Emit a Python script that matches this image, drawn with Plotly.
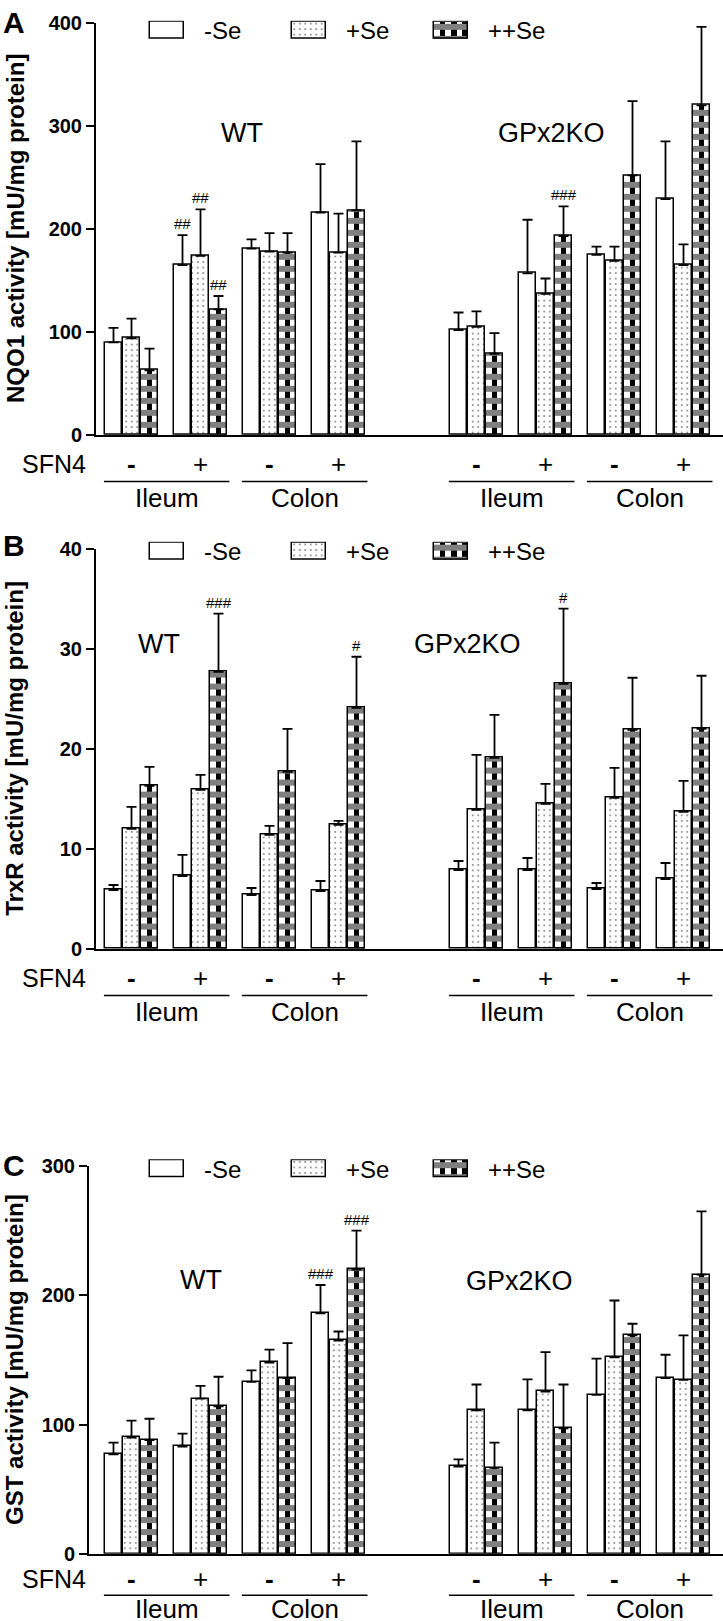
import plotly.graph_objects as go

W, H = 723, 1621
SANS = "Liberation Sans, Arial, Helvetica, sans-serif"

# ---------------- data ----------------
conditions = ["WT Ileum SFN4-", "WT Ileum SFN4+", "WT Colon SFN4-", "WT Colon SFN4+",
              "GPx2KO Ileum SFN4-", "GPx2KO Ileum SFN4+", "GPx2KO Colon SFN4-", "GPx2KO Colon SFN4+"]
sfn4_labels = ["-", "+", "-", "+", "-", "+", "-", "+"]
tissue_labels = ["Ileum", "Colon", "Ileum", "Colon"]
genotype_labels = ["WT", "GPx2KO"]
se_levels = ["-Se", "+Se", "++Se"]

# A: NQO1 activity [mU/mg protein]
nqo1_minus_se = [90, 165, 181, 216, 102, 157, 175, 229]
nqo1_plus_se = [94, 174, 178, 177, 105, 137, 169, 165]
nqo1_plusplus_se = [63, 122, 177, 218, 79, 193, 252, 320]
nqo1_minus_se_err = [14, 29, 9, 47, 17, 52, 8, 56]
nqo1_plus_se_err = [19, 45, 18, 38, 15, 15, 14, 20]
nqo1_plusplus_se_err = [21, 13, 19, 67, 20, 29, 72, 76]
nqo1_marks = [("-Se", 1, "##"), ("+Se", 1, "##"), ("++Se", 1, "##"), ("++Se", 5, "###")]

# B: TrxR activity [mU/mg protein]
trxr_minus_se = [5.9, 7.3, 5.4, 5.8, 7.9, 7.9, 6.0, 7.0]
trxr_plus_se = [12.0, 15.9, 11.4, 12.4, 13.9, 14.5, 15.1, 13.7]
trxr_plusplus_se = [16.3, 27.7, 17.7, 24.1, 19.1, 26.5, 21.9, 22.0]
trxr_minus_se_err = [0.5, 2.1, 0.7, 1.0, 0.9, 1.2, 0.6, 1.6]
trxr_plus_se_err = [2.2, 1.5, 0.9, 0.4, 5.5, 2.0, 3.0, 3.1]
trxr_plusplus_se_err = [1.9, 5.8, 4.3, 5.1, 4.3, 7.5, 5.2, 5.3]
trxr_marks = [("++Se", 1, "###"), ("++Se", 3, "#"), ("++Se", 5, "#")]

# C: GST activity [mU/mg protein]
gst_minus_se = [77, 83, 133, 186, 67.5, 111, 123, 136]
gst_plus_se = [90, 120, 148, 165, 111, 125.5, 152, 134.5]
gst_plusplus_se = [88, 114, 136, 220, 66.5, 97, 169, 216]
gst_minus_se_err = [9, 10, 9, 22, 5.5, 24, 28, 18]
gst_plus_se_err = [13, 10, 10, 7, 20, 30.5, 44, 34.5]
gst_plusplus_se_err = [16.5, 23, 27, 30, 19.5, 34, 9, 49]
gst_marks = [("-Se", 3, "###"), ("++Se", 3, "###")]

# ---------------- layout constants ----------------
SLOT = [0, 1, 2, 3, 5, 6, 7, 8]      # x slot of each condition (slot 4 is the gap)
PITCH = 69.0                          # px per slot
X0 = 131.5                            # px of slot 0 centre
BAR_PX = 17.0
BAR_W = BAR_PX / PITCH
BAR_STEP = 18.0 / PITCH
SE_OFF = {"-Se": -BAR_STEP, "+Se": 0.0, "++Se": BAR_STEP}
N_CHECK = 3                           # checker columns per ++Se bar
CHECK_H = 6.0                         # checker square height (px)

panels = [
    dict(letter="A", title="NQO1 activity [mU/mg protein]", ymax=400, dtick=100,
         vals=[nqo1_minus_se, nqo1_plus_se, nqo1_plusplus_se],
         errs=[nqo1_minus_se_err, nqo1_plus_se_err, nqo1_plusplus_se_err],
         marks=nqo1_marks, top=12, bottom=430, left=96, legend_y=20, letter_y=12,
         wt=(1.6, 293), ko=(6.08, 293), rows=(29, 47, 64)),
    dict(letter="B", title="TrxR activity [mU/mg protein]", ymax=40, dtick=10,
         vals=[trxr_minus_se, trxr_plus_se, trxr_plusplus_se],
         errs=[trxr_minus_se_err, trxr_plus_se_err, trxr_plusplus_se_err],
         marks=trxr_marks, top=545, bottom=951, left=96, legend_y=548, letter_y=542,
         wt=(0.4, 30.5), ko=(4.87, 30.5), rows=(29, 47, 64)),
    dict(letter="C", title="GST activity [mU/mg protein]", ymax=300, dtick=100,
         vals=[gst_minus_se, gst_plus_se, gst_plusplus_se],
         errs=[gst_minus_se_err, gst_plus_se_err, gst_plusplus_se_err],
         marks=gst_marks, top=1171, bottom=1564, left=89, legend_y=1174, letter_y=1170,
         wt=(1.0, 212), ko=(5.63, 211), rows=(26, 42, 56)),
]

LEG_X0 = 167.0   # px centre of first legend swatch
LEG_PITCH = 142.0
LEG_W = 34.0 / LEG_PITCH
LEG_H = 17.0
LEG_COLS = 6


def sfx(n):
    return "" if n == 1 else str(n)


def py(px):
    return 1 - px / H


def txt(**kw):
    d = dict(showarrow=False, xanchor="center", yanchor="middle")
    d.update(kw)
    return d


fig = go.Figure()
annotations = []
shapes = []
lay = {}

for p, P in enumerate(panels):
    n = p + 1
    xa, ya = "x" + sfx(n), "y" + sfx(n)
    xs = {lvl: [SLOT[i] + SE_OFF[lvl] for i in range(len(conditions))] for lvl in se_levels}
    err_common = dict(type="data", symmetric=False, arrayminus=[0] * len(conditions),
                      color="black", thickness=1.8, width=5)
    # -Se
    fig.add_trace(go.Bar(x=xs["-Se"], y=P["vals"][0], width=BAR_W, xaxis=xa, yaxis=ya,
                         marker=dict(color="white", line=dict(color="black", width=1.5)),
                         error_y=dict(array=P["errs"][0], **err_common), name="-Se"))
    # +Se (dotted)
    fig.add_trace(go.Bar(x=xs["+Se"], y=P["vals"][1], width=BAR_W, xaxis=xa, yaxis=ya,
                         marker=dict(color="white", line=dict(color="black", width=1.5),
                                     pattern=dict(shape=".", fgcolor="black", bgcolor="white",
                                                  size=5.5, solidity=0.1)),
                         error_y=dict(array=P["errs"][1], **err_common), name="+Se"))
    # ++Se checkerboard built from alternating striped columns
    for parity in (0, 1):
        cx, cy = [], []
        for i in range(len(conditions)):
            for k in range(parity, N_CHECK, 2):
                cx.append(xs["++Se"][i] + (k - (N_CHECK - 1) / 2) * BAR_W / N_CHECK)
                cy.append(P["vals"][2][i])
        fg, bg = ("black", "white") if parity == 0 else ("white", "black")
        fig.add_trace(go.Bar(x=cx, y=cy, width=BAR_W / N_CHECK, xaxis=xa, yaxis=ya,
                             marker=dict(color="white", line=dict(width=0),
                                         pattern=dict(shape="-", fgcolor=fg, bgcolor=bg,
                                                      size=2 * CHECK_H, solidity=0.5)),
                             hoverinfo="skip"))
    fig.add_trace(go.Bar(x=xs["++Se"], y=P["vals"][2], width=BAR_W, xaxis=xa, yaxis=ya,
                         marker=dict(color="rgba(0,0,0,0)", line=dict(color="black", width=1.5)),
                         error_y=dict(array=P["errs"][2], **err_common), name="++Se"))

    # axes
    left = P["left"]
    lay["xaxis" + sfx(n)] = dict(domain=[left / W, 1], range=[(left - X0) / PITCH, (W - X0) / PITCH],
                                 anchor=ya, showline=True, linewidth=2, linecolor="black",
                                 showticklabels=False, ticks="", showgrid=False, zeroline=False,
                                 fixedrange=True)
    lay["yaxis" + sfx(n)] = dict(domain=[py(P["bottom"]), py(P["top"])], range=[0, P["ymax"]],
                                 anchor=xa, tickvals=list(range(0, P["ymax"] + 1, P["dtick"])),
                                 ticks="outside", ticklen=8, tickwidth=2, tickcolor="black",
                                 showline=True, linewidth=2, linecolor="black", showgrid=False,
                                 zeroline=False, fixedrange=True,
                                 tickfont=dict(family=SANS, size=20, color="black", weight="bold"))

    # significance marks
    for lvl, i, t in P["marks"]:
        s = se_levels.index(lvl)
        annotations.append(txt(x=xs[lvl][i], y=P["vals"][s][i] + P["errs"][s][i], xref=xa, yref=ya,
                               text=t, yanchor="bottom", yshift=1,
                               font=dict(family=SANS, size=15, color="black")))
    # genotype labels
    for (gx, gy), g in zip([P["wt"], P["ko"]], genotype_labels):
        annotations.append(txt(x=gx, y=gy, xref=xa, yref=ya, text=g,
                               font=dict(family=SANS, size=27, color="black")))
    # SFN4 row
    r_sign, r_line, r_tissue = P["rows"]
    row_y = py(P["bottom"] + r_sign)
    annotations.append(txt(x=54 / W, y=row_y, xref="paper", yref="paper", text="SFN4",
                           font=dict(family=SANS, size=25, color="black")))
    for i, s in enumerate(sfn4_labels):
        annotations.append(txt(x=SLOT[i], y=row_y, xref=xa, yref="paper",
                               text=("<b>-</b>" if s == "-" else s),
                               font=dict(family=SANS, size=26, color="black")))
    # tissue underlines and labels
    for g, t in enumerate(tissue_labels):
        a, b = SLOT[2 * g], SLOT[2 * g + 1]
        shapes.append(dict(type="line", xref=xa, yref="paper", x0=a - 0.4, x1=b + 0.42,
                           y0=py(P["bottom"] + r_line), y1=py(P["bottom"] + r_line),
                           line=dict(color="black", width=1.5)))
        annotations.append(txt(x=(a + b) / 2 + 0.02, y=py(P["bottom"] + r_tissue), xref=xa, yref="paper",
                               text=t, font=dict(family=SANS, size=26, color="black")))
    # y title and panel letter
    annotations.append(txt(x=15 / W, y=py((P["top"] + P["bottom"]) / 2), xref="paper", yref="paper",
                           text=P["title"], textangle=-90,
                           font=dict(family=SANS, size=24, color="black", weight="bold")))
    annotations.append(txt(x=14 / W, y=py(P["letter_y"]), xref="paper", yref="paper",
                           text=P["letter"],
                           font=dict(family=SANS, size=30, color="black", weight="bold")))

    # ---- legend row (swatches on a small helper axis) ----
    m = n + 3
    lxa, lya = "x" + sfx(m), "y" + sfx(m)
    lay["xaxis" + sfx(m)] = dict(domain=[0, 1], range=[-LEG_X0 / LEG_PITCH, (W - LEG_X0) / LEG_PITCH],
                                 visible=False, fixedrange=True, anchor=lya)
    pad = 1.5
    lay["yaxis" + sfx(m)] = dict(domain=[py(P["legend_y"] + LEG_H / 2 + pad), py(P["legend_y"] - LEG_H / 2 - pad)],
                                 range=[-pad / LEG_H, 1 + pad / LEG_H], visible=False,
                                 fixedrange=True, anchor=lxa)
    lpos = list(range(len(se_levels)))
    fig.add_trace(go.Bar(x=[lpos[0]], y=[1], width=LEG_W, xaxis=lxa, yaxis=lya,
                         marker=dict(color="white", line=dict(color="black", width=1.5))))
    fig.add_trace(go.Bar(x=[lpos[1]], y=[1], width=LEG_W, xaxis=lxa, yaxis=lya,
                         marker=dict(color="white", line=dict(color="black", width=1.5),
                                     pattern=dict(shape=".", fgcolor="black", bgcolor="white",
                                                  size=5.5, solidity=0.1))))
    for parity in (0, 1):
        ks = list(range(parity, LEG_COLS, 2))
        fg, bg = ("black", "white") if parity == 0 else ("white", "black")
        fig.add_trace(go.Bar(x=[lpos[2] + (k - (LEG_COLS - 1) / 2) * LEG_W / LEG_COLS for k in ks],
                             y=[1] * len(ks), width=LEG_W / LEG_COLS, xaxis=lxa, yaxis=lya,
                             marker=dict(color="white", line=dict(width=0),
                                         pattern=dict(shape="-", fgcolor=fg, bgcolor=bg,
                                                      size=2 * CHECK_H, solidity=0.5))))
    fig.add_trace(go.Bar(x=[lpos[2]], y=[1], width=LEG_W, xaxis=lxa, yaxis=lya,
                         marker=dict(color="rgba(0,0,0,0)", line=dict(color="black", width=1.5))))
    for j, lvl in enumerate(se_levels):
        annotations.append(txt(x=lpos[j] + LEG_W / 2 + 18 / LEG_PITCH, y=0.5, xref=lxa, yref=lya,
                               text=lvl, xanchor="left",
                               font=dict(family=SANS, size=24, color="black")))

fig.update_layout(width=W, height=H, margin=dict(l=0, r=0, t=0, b=0),
                  paper_bgcolor="white", plot_bgcolor="rgba(0,0,0,0)",
                  barmode="overlay", bargap=0, bargroupgap=0, showlegend=False,
                  font=dict(family=SANS, color="black"),
                  annotations=annotations, shapes=shapes, **lay)
fig.write_html("out.html", config={"displayModeBar": False},
               post_script="document.body.style.margin='0px';document.body.style.overflow='hidden';")
